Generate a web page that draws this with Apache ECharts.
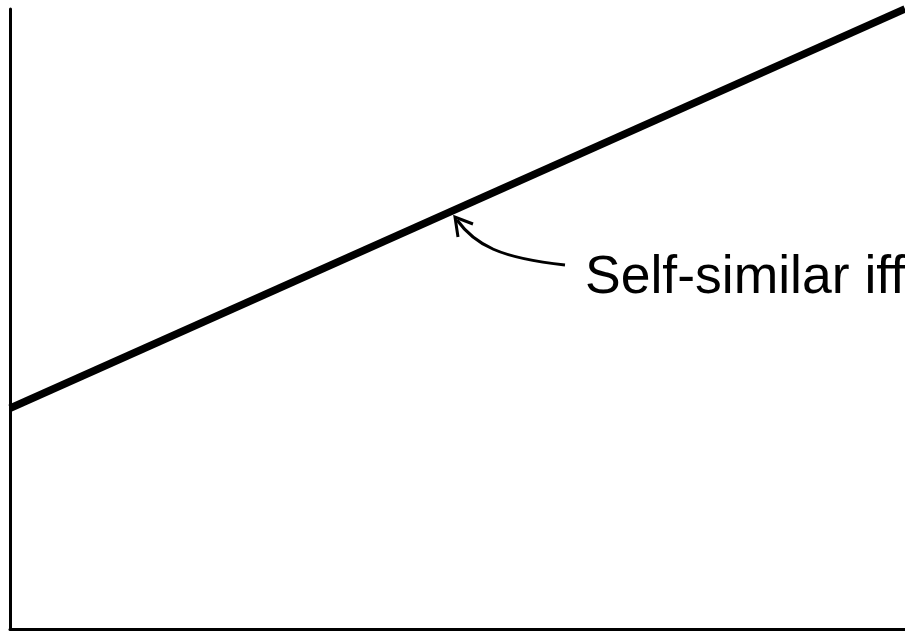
<!DOCTYPE html>
<html>
<head>
<meta charset="utf-8">
<script src="https://cdn.jsdelivr.net/npm/echarts@6/dist/echarts.min.js"></script>
<style>
    html, body { margin: 0; padding: 0; background: #fff; }
    #chart { width: 905px; height: 632px; }
</style>
</head>
<body>
<div id="chart"></div>
<script>
// line end points (x in 0..1, y in 0..1)
const xValues = [0, 1];
const yValues = [0.356, 1.0];
const annotationText = 'Self-similar iff';

const chart = echarts.init(document.getElementById('chart'));
const axisStyle = {
    axisLine: { show: true, lineStyle: { color: '#000', width: 3 } },
    axisTick: { show: false },
    axisLabel: { show: false },
    splitLine: { show: false }
};
chart.setOption({
    animation: false,
    grid: { left: 10, right: 0, top: 9, bottom: 3 },
    xAxis: Object.assign({ type: 'value', min: 0, max: 1 }, axisStyle),
    yAxis: Object.assign({ type: 'value', min: 0, max: 1 }, axisStyle),
    series: [{
        type: 'line',
        data: xValues.map((x, i) => [x, yValues[i]]),
        showSymbol: false,
        clip: false,
        lineStyle: { color: '#000', width: 7.5 }
    }],
    graphic: [
        {
            type: 'bezierCurve',
            shape: { x1: 565, y1: 265, cpx1: 500, cpy1: 258, cpx2: 475, cpy2: 245, x2: 457, y2: 220 },
            style: { stroke: '#000', lineWidth: 3, fill: null }
        },
        {
            type: 'polyline',
            shape: { points: [[458, 237], [455, 217], [473, 224]] },
            style: { stroke: '#000', lineWidth: 3, fill: null }
        },
        {
            type: 'text',
            left: 585,
            top: 251,
            style: { text: annotationText, font: '53.5px "Liberation Sans", Arial, sans-serif', fill: '#000' }
        }
    ]
});
</script>
</body>
</html>
